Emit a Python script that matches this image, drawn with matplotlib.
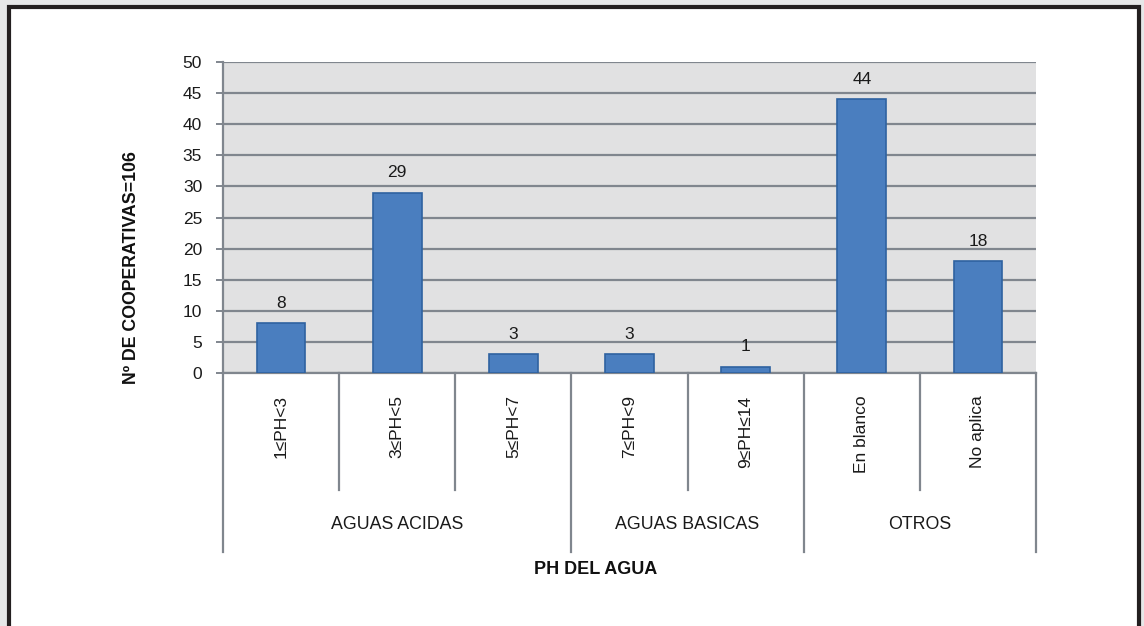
import matplotlib.pyplot as plt
from matplotlib.patches import Rectangle

# pH ranges of the water and number of cooperatives in each one
categories = ["1≤PH<3", "3≤PH<5", "5≤PH<7", "7≤PH<9", "9≤PH≤14", "En blanco", "No aplica"]
values = [8, 29, 3, 3, 1, 44, 18]
groups = ["AGUAS ACIDAS", "AGUAS BASICAS", "OTROS"]
group_sizes = [3, 2, 2]
y_ticks = [0, 5, 10, 15, 20, 25, 30, 35, 40, 45, 50]

plt.rcParams["font.family"] = ["Liberation Sans", "DejaVu Sans"]

W, H = 1144, 626
fig = plt.figure(figsize=(W / 100, H / 100), dpi=100, facecolor="#e6e7e8")

# white panel with a dark border around the chart
fig.patches.append(Rectangle((9 / W, -0.05), 1130 / W, 1 - 7 / H + 0.05,
                             transform=fig.transFigure, facecolor="white",
                             edgecolor="#231f20", linewidth=3, zorder=-5))

ax = fig.add_axes([223 / W, 1 - 373 / H, (1036 - 223) / W, (373 - 62) / H])
ax.set_facecolor("#e1e1e2")

x = list(range(len(categories)))
bars = ax.bar(x, values, width=0.42, color="#4a7ebf", edgecolor="#2f62a0",
              linewidth=1.2, zorder=3)
for xi, v in zip(x, values):
    ax.annotate(str(v), (xi, v), xytext=(0, 9), textcoords="offset points",
                ha="center", va="bottom", fontsize=12.5, color="#1a1a1a")

ax.set_xlim(-0.5, len(categories) - 0.5)
ax.set_ylim(0, 50)
ax.set_yticks(y_ticks)
ax.yaxis.grid(True, color="#80868e", linewidth=1.6, zorder=1)
ax.set_axisbelow(True)
ax.tick_params(axis="y", length=5, width=1.4, color="#80868e", pad=10,
               labelsize=12.5, labelcolor="#1a1a1a")
ax.set_xticks([])
for side in ["top", "right"]:
    ax.spines[side].set_visible(False)
for side in ["left", "bottom"]:
    ax.spines[side].set_color("#80868e")
    ax.spines[side].set_linewidth(1.6)

# rotated category labels under each bar
trans = ax.get_xaxis_transform()
for xi, name in zip(x, categories):
    ax.text(xi, -0.072, name, rotation=90, ha="center", va="top",
            fontsize=12.5, color="#1a1a1a", transform=trans)

# separators: short ones between categories, long ones between groups
bounds = [-0.5]
for size in group_sizes:
    bounds.append(bounds[-1] + size)
for i in range(len(categories) + 1):
    edge = i - 0.5
    low = -0.576 if edge in bounds else -0.376
    ax.plot([edge, edge], [0, low], color="#80868e", linewidth=1.6,
            transform=trans, clip_on=False)

for g, left, right in zip(groups, bounds[:-1], bounds[1:]):
    ax.text((left + right) / 2, -0.486, g, ha="center", va="center",
            fontsize=12.8, color="#1a1a1a", transform=trans)

fig.text(596 / W, 1 - 570 / H, "PH DEL AGUA", ha="center", va="center",
         fontsize=13, fontweight="bold", color="#111111")
fig.text(132 / W, 1 - 268 / H, "Nº DE COOPERATIVAS=106", rotation=90,
         ha="center", va="center", fontsize=12.8, fontweight="bold",
         color="#111111")

fig.savefig("out.png", dpi=100, facecolor=fig.get_facecolor())
